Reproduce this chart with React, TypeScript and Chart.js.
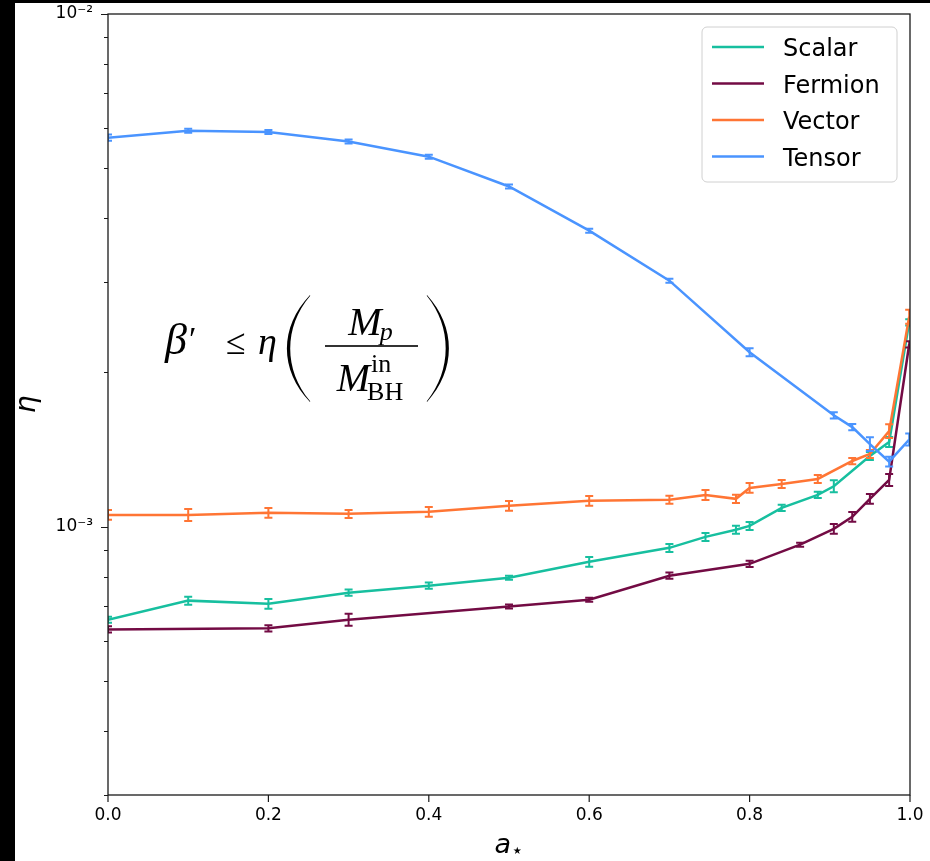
import React, { useEffect, useRef } from 'react';
import { Chart, registerables } from 'chart.js';

Chart.register(...registerables);

// ---------------- data ----------------
const seriesNames = ['Scalar', 'Fermion', 'Vector', 'Tensor'];
const seriesColors = ['#17bf9f', '#730b44', '#ff7534', '#4a94ff'];

const spinScalar = [0, 0.1, 0.2, 0.3, 0.4, 0.5, 0.6, 0.7, 0.745, 0.783, 0.8, 0.84, 0.885, 0.905, 0.95, 0.974, 0.999];
const etaScalar = [0.659e-3, 0.718e-3, 0.708e-3, 0.744e-3, 0.768e-3, 0.796e-3, 0.855e-3, 0.91e-3, 0.956e-3, 0.987e-3, 1.004e-3, 1.089e-3, 1.154e-3, 1.2e-3, 1.374e-3, 1.464e-3, 2.505e-3];
const errScalar = [0.014, 0.018, 0.022, 0.014, 0.014, 0.009, 0.022, 0.018, 0.018, 0.018, 0.018, 0.014, 0.014, 0.027, 0.018, 0.022, 0.014];

const spinFermion = [0, 0.2, 0.3, 0.5, 0.6, 0.7, 0.8, 0.863, 0.905, 0.928, 0.95, 0.974, 0.999];
const etaFermion = [0.631e-3, 0.634e-3, 0.659e-3, 0.699e-3, 0.721e-3, 0.803e-3, 0.847e-3, 0.923e-3, 0.991e-3, 1.046e-3, 1.134e-3, 1.234e-3, 2.27e-3];
const errFermion = [0.014, 0.014, 0.027, 0.009, 0.009, 0.014, 0.014, 0.009, 0.022, 0.022, 0.022, 0.027, 0.014];

const spinVector = [0, 0.1, 0.2, 0.3, 0.4, 0.5, 0.6, 0.7, 0.745, 0.783, 0.8, 0.84, 0.885, 0.928, 0.95, 0.974, 0.999];
const etaVector = [1.055e-3, 1.055e-3, 1.065e-3, 1.06e-3, 1.07e-3, 1.099e-3, 1.124e-3, 1.129e-3, 1.154e-3, 1.134e-3, 1.191e-3, 1.212e-3, 1.24e-3, 1.344e-3, 1.387e-3, 1.537e-3, 2.57e-3];
const errVector = [0.022, 0.027, 0.022, 0.018, 0.022, 0.022, 0.022, 0.018, 0.022, 0.018, 0.022, 0.018, 0.018, 0.014, 0.018, 0.031, 0.031];

const spinTensor = [0, 0.1, 0.2, 0.3, 0.4, 0.5, 0.6, 0.7, 0.8, 0.905, 0.928, 0.95, 0.974, 0.999];
const etaTensor = [5.74e-3, 5.92e-3, 5.89e-3, 5.64e-3, 5.27e-3, 4.61e-3, 3.78e-3, 3.02e-3, 2.19e-3, 1.65e-3, 1.565e-3, 1.45e-3, 1.34e-3, 1.48e-3];
const errTensor = [0.014, 0.009, 0.009, 0.009, 0.009, 0.009, 0.009, 0.009, 0.018, 0.014, 0.014, 0.031, 0.022, 0.027];

const xTicks = [0, 0.2, 0.4, 0.6, 0.8, 1.0];
const yMinorTicks = [3e-4, 4e-4, 5e-4, 6e-4, 7e-4, 8e-4, 9e-4, 2e-3, 3e-3, 4e-3, 5e-3, 6e-3, 7e-3, 8e-3, 9e-3];
const yMajorTicks = [1e-3, 1e-2];
const yMajorLabels = ['10⁻³', '10⁻²'];

const xLabel = 'a';
const xLabelSub = '⋆';
const yLabel = 'η';

// ---------------- helpers ----------------
const SANS = '"DejaVu Sans", sans-serif';
const SERIF = '"Liberation Serif", "DejaVu Serif", serif';

function isMajor(v: number) {
  return yMajorTicks.some((m) => Math.abs(m - v) / m < 1e-6);
}

function drawParen(ctx: CanvasRenderingContext2D, xl: number, xr: number, top: number, bottom: number, side: 'left' | 'right') {
  const h = bottom - top;
  const endX = side === 'left' ? xr : xl;
  const outX = side === 'left' ? xl : xr;
  const dir = side === 'left' ? 1 : -1;
  const inX = outX + dir * 3.2;
  const cOut = (8 * outX - 2 * endX) / 6;
  const cIn = (8 * inX - 2 * endX) / 6;
  ctx.beginPath();
  ctx.moveTo(endX, top);
  ctx.bezierCurveTo(cOut, top + h * 0.3, cOut, bottom - h * 0.3, endX, bottom);
  ctx.lineTo(endX + dir * 0.2, bottom - 0.8);
  ctx.bezierCurveTo(cIn, bottom - h * 0.3, cIn, top + h * 0.3, endX + dir * 0.2, top + 0.8);
  ctx.closePath();
  ctx.fill();
}

function drawFormula(ctx: CanvasRenderingContext2D, area: any) {
  const ax = area.left + 57;
  const ay = area.top + 340;
  ctx.save();
  ctx.fillStyle = '#000';
  ctx.textAlign = 'left';
  ctx.textBaseline = 'alphabetic';
  ctx.font = `italic 44px ${SERIF}`;
  ctx.fillText('β', ax, ay);
  const bw = ctx.measureText('β').width;
  ctx.font = `34px ${SERIF}`;
  ctx.fillText('′', ax + bw + 2, ay - 4);
  ctx.font = `36px ${SERIF}`;
  ctx.fillText('≤', ax + 61, ay);
  ctx.font = `italic 38px ${SERIF}`;
  ctx.fillText('η', ax + 93, ay);

  drawParen(ctx, ax + 122, ax + 145, ay - 59, ay + 48, 'left');
  drawParen(ctx, ax + 262, ax + 284, ay - 59, ay + 48, 'right');

  const barL = ax + 160;
  const barR = ax + 253;
  const barY = ay - 8;
  ctx.fillRect(barL, barY - 0.8, barR - barL, 1.6);
  const cx = (barL + barR) / 2;

  ctx.font = `italic 40px ${SERIF}`;
  const mW = ctx.measureText('M').width;
  ctx.font = `italic 26px ${SERIF}`;
  const pW = ctx.measureText('p').width;
  const nx = cx - (mW + pW) / 2;
  ctx.font = `italic 40px ${SERIF}`;
  ctx.fillText('M', nx, ay - 19);
  ctx.font = `italic 26px ${SERIF}`;
  ctx.fillText('p', nx + mW - 2, ay - 14);

  ctx.font = `26px ${SERIF}`;
  const inW = ctx.measureText('in').width;
  const bhW = ctx.measureText('BH').width;
  const dW = mW + Math.max(inW, bhW);
  const dx = cx - dW / 2;
  ctx.font = `italic 40px ${SERIF}`;
  ctx.fillText('M', dx, ay + 37);
  ctx.font = `26px ${SERIF}`;
  ctx.fillText('in', dx + mW + 1, ay + 18);
  ctx.fillText('BH', dx + mW - 3, ay + 46);
  ctx.restore();
}

const decorPlugin = {
  id: 'decor',
  afterDatasetDraw(chart: any, args: any) {
    const ds = chart.data.datasets[args.index];
    const errs: number[] = ds.errRel;
    if (!errs) return;
    const ctx: CanvasRenderingContext2D = chart.ctx;
    const xs = chart.scales.x;
    const ys = chart.scales.y;
    const area = chart.chartArea;
    ctx.save();
    ctx.beginPath();
    ctx.rect(area.left, area.top, area.right - area.left, area.bottom - area.top);
    ctx.clip();
    ctx.strokeStyle = ds.borderColor;
    ctx.lineWidth = 2;
    ds.data.forEach((p: any, i: number) => {
      const e = errs[i];
      const px = xs.getPixelForValue(p.x);
      const y0 = ys.getPixelForValue(p.y * (1 - e));
      const y1 = ys.getPixelForValue(p.y * (1 + e));
      ctx.beginPath();
      ctx.moveTo(px, y0);
      ctx.lineTo(px, y1);
      ctx.moveTo(px - 4, y0);
      ctx.lineTo(px + 4, y0);
      ctx.moveTo(px - 4, y1);
      ctx.lineTo(px + 4, y1);
      ctx.stroke();
    });
    ctx.restore();
  },
  afterDraw(chart: any) {
    const ctx: CanvasRenderingContext2D = chart.ctx;
    const area = chart.chartArea;
    const xs = chart.scales.x;
    const ys = chart.scales.y;
    ctx.save();
    // frame
    ctx.strokeStyle = '#1a1a1a';
    ctx.lineWidth = 1.3;
    ctx.strokeRect(area.left, area.top, area.right - area.left, area.bottom - area.top);
    // ticks
    ctx.lineWidth = 1.2;
    ctx.beginPath();
    [...yMinorTicks, ...yMajorTicks].forEach((v) => {
      const y = Math.round(ys.getPixelForValue(v)) + 0.5;
      const len = isMajor(v) ? 7 : 4;
      ctx.moveTo(area.left - len, y);
      ctx.lineTo(area.left, y);
    });
    xTicks.forEach((v) => {
      const x = xs.getPixelForValue(v);
      ctx.moveTo(x, area.bottom);
      ctx.lineTo(x, area.bottom + 7);
    });
    ctx.stroke();

    // axis labels
    ctx.fillStyle = '#000';
    ctx.font = `italic 28px ${SANS}`;
    ctx.textAlign = 'center';
    ctx.textBaseline = 'alphabetic';
    ctx.save();
    ctx.translate(20, (area.top + area.bottom) / 2);
    ctx.rotate(-Math.PI / 2);
    ctx.fillText(yLabel, 0, 0);
    ctx.restore();

    ctx.font = `italic 27px ${SANS}`;
    const aW = ctx.measureText(xLabel).width;
    ctx.font = `20px ${SANS}`;
    const sW = ctx.measureText(xLabelSub).width;
    const lx = (area.left + area.right) / 2 - (aW + sW) / 2;
    ctx.textAlign = 'left';
    ctx.font = `italic 27px ${SANS}`;
    ctx.fillText(xLabel, lx, area.bottom + 58);
    ctx.font = `20px ${SANS}`;
    ctx.fillText(xLabelSub, lx + aW, area.bottom + 62);

    // legend
    const bw = 195;
    const bh = 155;
    const bx = area.right - 13 - bw;
    const by = area.top + 13;
    const r = 5;
    ctx.beginPath();
    ctx.moveTo(bx + r, by);
    ctx.arcTo(bx + bw, by, bx + bw, by + bh, r);
    ctx.arcTo(bx + bw, by + bh, bx, by + bh, r);
    ctx.arcTo(bx, by + bh, bx, by, r);
    ctx.arcTo(bx, by, bx + bw, by, r);
    ctx.closePath();
    ctx.fillStyle = 'rgba(255,255,255,0.85)';
    ctx.fill();
    ctx.strokeStyle = '#d0d0d0';
    ctx.lineWidth = 1;
    ctx.stroke();
    chart.data.datasets.forEach((ds: any, i: number) => {
      const ry = by + 20 + i * 36.5;
      ctx.strokeStyle = ds.borderColor;
      ctx.lineWidth = 2.5;
      ctx.beginPath();
      ctx.moveTo(bx + 10, ry);
      ctx.lineTo(bx + 62, ry);
      ctx.stroke();
      ctx.fillStyle = '#000';
      ctx.font = `24px ${SANS}`;
      ctx.textAlign = 'left';
      ctx.textBaseline = 'alphabetic';
      ctx.fillText(ds.label, bx + 81, ry + 9);
    });

    drawFormula(ctx, area);
    ctx.restore();
  },
};

function mk(xs: number[], ys: number[]) {
  return xs.map((x, i) => ({ x, y: ys[i] }));
}

export default function App() {
  const ref = useRef<HTMLCanvasElement | null>(null);
  useEffect(() => {
    if (!ref.current) return;
    const spins = [spinScalar, spinFermion, spinVector, spinTensor];
    const etas = [etaScalar, etaFermion, etaVector, etaTensor];
    const errs = [errScalar, errFermion, errVector, errTensor];
    const datasets: any[] = seriesNames.map((name, i) => ({
      label: name,
      data: mk(spins[i], etas[i]),
      errRel: errs[i],
      borderColor: seriesColors[i],
      backgroundColor: seriesColors[i],
      borderWidth: 2.5,
      pointRadius: 0,
      tension: 0,
      fill: false,
      order: 3 - i,
    }));
    const chart = new Chart(ref.current, {
      type: 'line',
      data: { datasets },
      options: {
        animation: false,
        responsive: false,
        devicePixelRatio: 1,
        layout: { padding: { left: 0, right: 20, top: 11, bottom: 0 } },
        plugins: { legend: { display: false }, tooltip: { enabled: false } },
        scales: {
          x: {
            type: 'linear',
            min: 0,
            max: 1,
            grid: { display: false, drawTicks: false },
            border: { display: false },
            afterBuildTicks: (s: any) => {
              s.ticks = xTicks.map((v) => ({ value: v }));
            },
            afterFit: (s: any) => {
              s.height = 66;
              s.paddingLeft = 0;
              s.paddingRight = 0;
              s.paddingTop = 0;
              s.paddingBottom = 0;
            },
            ticks: {
              autoSkip: false,
              maxRotation: 0,
              padding: 10,
              color: '#000',
              font: { family: 'DejaVu Sans', size: 17 },
              callback: (v: any) => Number(v).toFixed(1),
            },
          },
          y: {
            type: 'logarithmic',
            min: 3e-4,
            max: 1e-2,
            grid: { display: false, drawTicks: false },
            border: { display: false },
            afterBuildTicks: (s: any) => {
              s.ticks = [...yMinorTicks, ...yMajorTicks].sort((a, b) => a - b).map((v) => ({ value: v, major: isMajor(v) }));
            },
            afterFit: (s: any) => {
              s.width = 93;
              s.paddingLeft = 0;
              s.paddingRight = 0;
              s.paddingTop = 0;
              s.paddingBottom = 0;
            },
            ticks: {
              autoSkip: false,
              padding: 15,
              color: '#000',
              font: { family: 'DejaVu Sans', size: 17 },
              callback: (v: any) => {
                const idx = yMajorTicks.findIndex((m) => Math.abs(m - Number(v)) / m < 1e-6);
                return idx >= 0 ? yMajorLabels[idx] : '';
              },
            },
          },
        },
      },
      plugins: [decorPlugin],
    } as any);
    return () => chart.destroy();
  }, []);

  return (
    <div style={{ position: 'absolute', left: 0, top: 0, width: 930, height: 861, background: '#000', overflow: 'hidden' }}>
      <canvas
        ref={ref}
        width={915}
        height={858}
        style={{ position: 'absolute', left: 15, top: 3, width: 915, height: 858, background: '#fff' }}
      />
    </div>
  );
}
